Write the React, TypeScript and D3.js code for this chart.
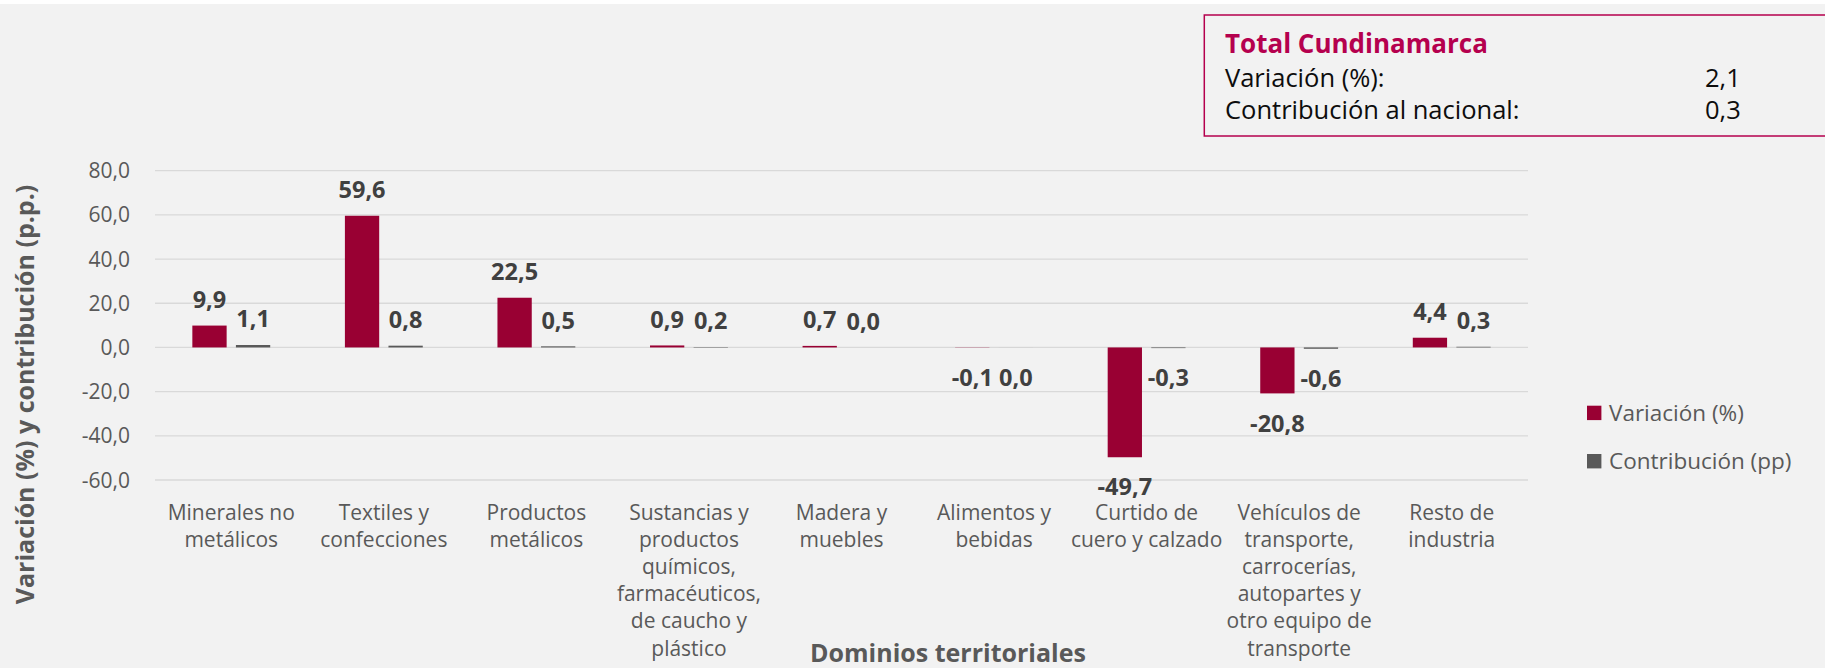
import React from "react";
import * as d3 from "d3";

const CATEGORIES = [
  ["Minerales no", "metálicos"],
  ["Textiles y", "confecciones"],
  ["Productos", "metálicos"],
  ["Sustancias y", "productos", "químicos,", "farmacéuticos,", "de caucho y", "plástico"],
  ["Madera y", "muebles"],
  ["Alimentos y", "bebidas"],
  ["Curtido de", "cuero y calzado"],
  ["Vehículos de", "transporte,", "carrocerías,", "autopartes y", "otro equipo de", "transporte"],
  ["Resto de", "industria"],
];
const VARIACION = [9.9, 59.6, 22.5, 0.9, 0.7, -0.1, -49.7, -20.8, 4.4];
// Alimentos contribution is a tiny negative that rounds to 0,0 (label sits below in the source)
const CONTRIBUCION = [1.1, 0.8, 0.5, 0.2, 0.0, -0.01, -0.3, -0.6, 0.3];
const SERIES = ["Variación (%)", "Contribución (pp)"];
const Y_TICKS = [-60, -40, -20, 0, 20, 40, 60, 80];
const TOTAL_ROWS = [
  ["Variación (%):", "2,1"],
  ["Contribución al nacional:", "0,3"],
];

const W = 1825;
const H = 668;
const FONT = "'Open Sans', 'Noto Sans', sans-serif";
const COLORS = ["#990033", "#595959"];
const CRIMSON = "#b5004e";

const locale = d3.formatLocale({ decimal: ",", thousands: ".", grouping: [3], currency: ["", ""], minus: "-" });
const fmt = locale.format(".1f");

export default function App() {
  const x0 = d3.scaleBand<number>().domain(d3.range(CATEGORIES.length)).range([155, 1528]);
  const bw = x0.bandwidth();
  const x1 = d3
    .scaleBand<number>()
    .domain([0, 1])
    .range([bw * 0.2448, bw * 0.7552])
    .paddingInner(0.213);
  const y = d3.scaleLinear().domain([-60, 80]).range([480, 170.7]);

  const seriesData = [VARIACION, CONTRIBUCION];

  return (
    <svg
      width={W}
      height={H}
      style={{ position: "absolute", left: 0, top: 0, display: "block" }}
      fontFamily={FONT}
    >
      <rect x={0} y={0} width={W} height={H} fill="#f2f2f2" />
      <rect x={0} y={0} width={W} height={4} fill="#ffffff" />

      {/* gridlines */}
      {Y_TICKS.map((t) => (
        <line key={t} x1={155} x2={1528} y1={y(t)} y2={y(t)} stroke="#d9d9d9" strokeWidth={1.3} />
      ))}
      {/* y tick labels */}
      {Y_TICKS.map((t) => (
        <text key={t} x={130} y={y(t) + 7.5} textAnchor="end" fontSize={21} fill="#595959">
          {fmt(t)}
        </text>
      ))}

      {/* bars */}
      {seriesData.map((vals, s) =>
        vals.map((v, i) => {
          const bx = (x0(i) as number) + (x1(s) as number);
          const top = y(Math.max(0, v));
          const h = Math.abs(y(v) - y(0));
          return (
            <rect key={`b${s}-${i}`} x={bx} y={top} width={x1.bandwidth()} height={h} fill={COLORS[s]} />
          );
        })
      )}

      {/* data labels */}
      {seriesData.map((vals, s) =>
        vals.map((v, i) => {
          const cx = (x0(i) as number) + (x1(s) as number) + x1.bandwidth() / 2;
          const ly = v >= 0 ? y(v) - 17.7 : y(v) + 38.2;
          return (
            <text
              key={`l${s}-${i}`}
              x={cx}
              y={ly}
              textAnchor="middle"
              fontSize={23.5}
              fontWeight="bold"
              fill="#404040"
            >
              {fmt(v)}
            </text>
          );
        })
      )}

      {/* category labels */}
      {CATEGORIES.map((lines, i) => (
        <text
          key={`c${i}`}
          x={(x0(i) as number) + bw / 2}
          y={519.5}
          textAnchor="middle"
          fontSize={21}
          fill="#595959"
        >
          {lines.map((ln, k) => (
            <tspan key={k} x={(x0(i) as number) + bw / 2} dy={k === 0 ? 0 : 27.2}>
              {ln}
            </tspan>
          ))}
        </text>
      ))}

      {/* axis titles */}
      <text x={948} y={662} textAnchor="middle" fontSize={25} fontWeight="bold" fill="#595959">
        Dominios territoriales
      </text>
      <text
        transform="translate(34,394.5) rotate(-90)"
        textAnchor="middle"
        fontSize={25}
        fontWeight="bold"
        fill="#595959"
      >
        Variación (%) y contribución (p.p.)
      </text>

      {/* legend */}
      {SERIES.map((name, s) => (
        <g key={name} transform={`translate(1587,${405.7 + s * 48.3})`}>
          <rect x={0} y={0} width={14.4} height={14.4} fill={COLORS[s]} />
          <text x={22} y={15} fontSize={22.5} fill="#595959">
            {name}
          </text>
        </g>
      ))}

      {/* total box */}
      <rect x={1204.3} y={15} width={700} height={121} fill="#f2f2f2" stroke={CRIMSON} strokeWidth={1.5} />
      <text x={1225} y={52.7} fontSize={26} fontWeight="bold" fill={CRIMSON}>
        Total Cundinamarca
      </text>
      {TOTAL_ROWS.map(([label, val], k) => (
        <g key={label}>
          <text x={1225} y={86.5 + k * 32} fontSize={25.5} fill="#0d0d0d">
            {label}
          </text>
          <text x={1705} y={86.5 + k * 32} fontSize={25.5} fill="#0d0d0d">
            {val}
          </text>
        </g>
      ))}
    </svg>
  );
}
